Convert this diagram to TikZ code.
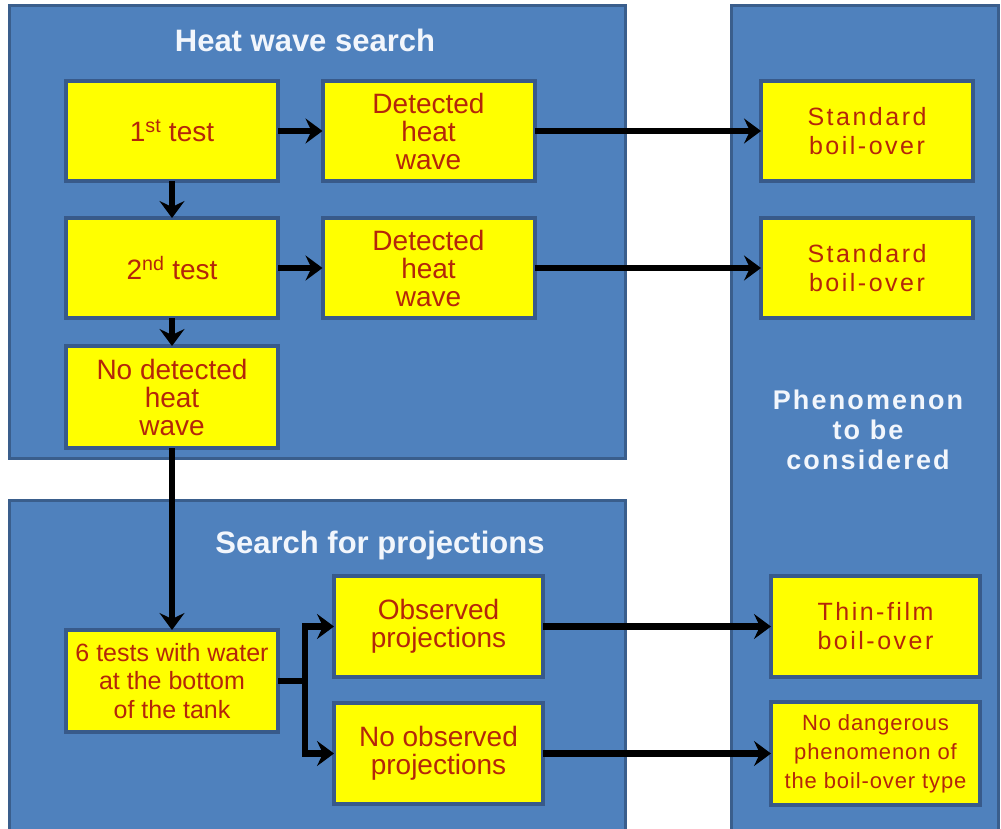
\documentclass[tikz,border=0pt]{standalone}
\usepackage{fontspec}
\setmainfont{Liberation Sans}
\usetikzlibrary{arrows.meta}
\definecolor{panelblue}{RGB}{79,129,189}
\definecolor{paneledge}{RGB}{58,94,140}
\definecolor{boxedge}{RGB}{56,90,138}
\definecolor{boxyellow}{RGB}{255,255,0}
\definecolor{boxtext}{RGB}{180,38,10}
\definecolor{titlewhite}{RGB}{242,246,252}
\tikzset{
  panel/.style={draw=paneledge, line width=3pt, fill=panelblue, inner sep=0pt, outer sep=0pt},
  ybox/.style={draw=boxedge, line width=4pt, fill=boxyellow, inner sep=0pt, outer sep=0pt,
    align=center, text=boxtext},
  bigbox/.style={ybox, minimum width=212pt, minimum height=100pt},
  boxfont/.style={font=\fontsize{28}{28}\selectfont},
  smallfont/.style={font=\fontsize{25}{28.5}\selectfont},
  spacedfont/.style={font=\fontsize{25}{29}\selectfont\addfontfeature{LetterSpace=10}},
  tinyfont/.style={font=\fontsize{22}{29}\selectfont\addfontfeature{LetterSpace=4}},
  paneltitle/.style={text=titlewhite, font=\fontsize{31}{30}\selectfont\bfseries, align=center},
  conn/.style={line width=6.5pt, -{Stealth[length=17pt,width=25pt,inset=6pt]}},
  plain/.style={line width=6.5pt}
}
\begin{document}
\begin{tikzpicture}[x=1pt,y=-1pt]
\useasboundingbox (0,0) rectangle (1001,829);
% panels
\node[panel, minimum width=616pt, minimum height=452pt] (p1) at (317,232) {};
\node[panel, minimum width=616pt, minimum height=340pt] (p2) at (317,670) {};
\node[panel, minimum width=267pt, minimum height=830pt] (p3) at (864.5,421) {};
% titles
\node[paneltitle] (t1) at (305,40) {Heat wave search};
\node[paneltitle] (t2) at (380,545) {Search for projections};
\node[paneltitle, font=\fontsize{27}{30}\selectfont\bfseries\addfontfeature{LetterSpace=8}] (t3) at (868,430) {Phenomenon\\to be\\considered};
% boxes
\node[bigbox, boxfont] (b1) at (172,131) {1\textsuperscript{st} test};
\node[bigbox, boxfont] (d1) at (428.5,131) {Detected\\heat\\wave};
\node[bigbox, boxfont] (b2) at (172,268) {2\textsuperscript{nd} test};
\node[bigbox, boxfont] (d2) at (428.5,268) {Detected\\heat\\wave};
\node[bigbox, boxfont, minimum height=102pt] (nd) at (172,397) {No detected\\heat\\wave};
\node[bigbox, spacedfont] (s1) at (867,131) {Standard\\boil-over};
\node[bigbox, spacedfont] (s2) at (867,268) {Standard\\boil-over};
\node[bigbox, smallfont, minimum height=102pt] (six) at (172,681) {6 tests with water\\at the bottom\\of the tank};
\node[ybox, boxfont, minimum width=209pt, minimum height=101pt] (ob) at (438.5,626.5) {Observed\\projections};
\node[ybox, boxfont, minimum width=209pt, minimum height=101pt] (nob) at (438.5,753.5) {No observed\\projections};
\node[ybox, spacedfont, minimum width=209pt, minimum height=101pt] (tf) at (875.5,626.5) {Thin-film\\boil-over};
\node[ybox, tinyfont, minimum width=209pt, minimum height=103pt] (ndg) at (875.5,753.5) {No dangerous\\phenomenon of\\the boil-over type};
% connectors
\draw[conn] (b1.east) -- (d1.west);
\draw[conn] (b2.east) -- (d2.west);
\draw[conn] (b1.south) -- (b2.north);
\draw[conn] (b2.south) -- (nd.north);
\draw[conn] (d1.east) -- (s1.west);
\draw[conn] (d2.east) -- (s2.west);
\draw[conn] (nd.south) -- (six.north);
\coordinate (branch) at (305,681);
\draw[plain] (six.east) -- (branch);
\draw[conn] (branch) |- (ob.west);
\draw[conn] (branch) |- (nob.west);
\draw[conn] (ob.east) -- (tf.west);
\draw[conn] (nob.east) -- (ndg.west);
\end{tikzpicture}
\end{document}
